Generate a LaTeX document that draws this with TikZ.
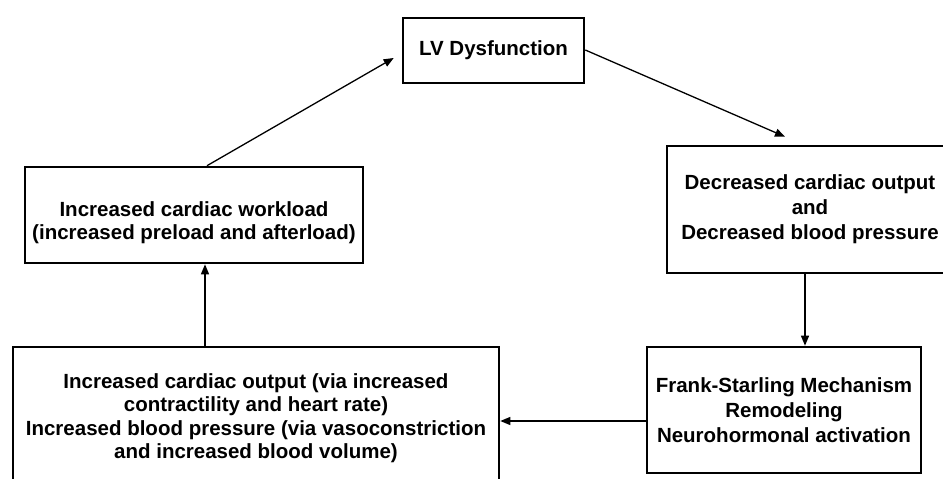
\documentclass[tikz,border=0pt]{standalone}
\usepackage{fontspec}
\setmainfont{Liberation Sans}
\usepackage{tikz}
\usetikzlibrary{arrows.meta,positioning,calc}

\tikzset{
  box/.style={draw, line width=2.6pt, align=center, inner sep=0pt,
    font=\fontsize{20.5}{25}\selectfont\bfseries},
  tight/.style={font=\fontsize{20.5}{23.5}\selectfont\bfseries},
  flow/.style={-{Triangle[length=10pt,width=8pt]}, line width=1.3pt}
}

\begin{document}
\begin{tikzpicture}[x=1pt,y=-1pt]

% Canvas
\useasboundingbox (0,0) rectangle (943,479);
\clip (0,0) rectangle (943,479);

% Boxes
\node[box, minimum width=181pt, minimum height=65pt] (lv) at (493.5,50.5) {LV Dysfunction};
\node[box, minimum width=286pt, minimum height=127pt] (dec) at (810,209.5)
  {Decreased cardiac output\\and\\Decreased blood pressure};
\node[box, minimum width=274pt, minimum height=126pt] (frank) at (784,410)
  {Frank-Starling Mechanism\\Remodeling\\Neurohormonal activation};
\node[box, tight, minimum width=486pt, minimum height=142pt] (resp) at (256,418)
  {Increased cardiac output (via increased\\contractility and heart rate)\\Increased blood pressure (via vasoconstriction\\and increased blood volume)};
\node[box, tight, minimum width=338pt, minimum height=96pt] (load) at (194,215)
  {\rule{0pt}{30pt}Increased cardiac workload\\(increased preload and afterload)};

% Arrows
\draw[flow] ($(load.north)+(13,0)$) -- ($(lv.west)+(-8,7.5)$);
\draw[flow] ($(lv.east)+(0,-0.5)$) -- ($(dec.north)+(-25,-8)$);
\coordinate (d1) at ($(dec.south)+(-5,0)$);
\draw[flow] (d1) -- (d1 |- frank.north);
\coordinate (f1) at ($(frank.west)+(0,11)$);
\draw[flow] (f1) -- (f1 -| resp.east);
\coordinate (r1) at ($(resp.north)+(-51,0)$);
\draw[flow] (r1) -- (r1 |- load.south);

\end{tikzpicture}
\end{document}
